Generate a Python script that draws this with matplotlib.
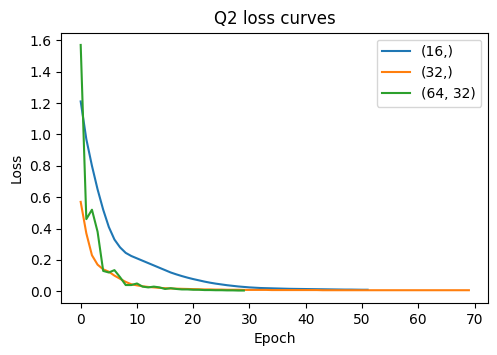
import matplotlib
matplotlib.use("Agg")
import matplotlib.pyplot as plt

loss_16 = [1.21, 0.97, 0.80, 0.65, 0.52, 0.41, 0.33, 0.28, 0.245, 0.225,
           0.21, 0.195, 0.18, 0.165, 0.15, 0.135, 0.12, 0.108, 0.097, 0.087,
           0.078, 0.07, 0.062, 0.055, 0.049, 0.044, 0.039, 0.035, 0.031, 0.028,
           0.025, 0.023, 0.021, 0.02, 0.019, 0.018, 0.017, 0.016, 0.0155, 0.015,
           0.0145, 0.014, 0.0135, 0.013, 0.0125, 0.012, 0.0115, 0.011, 0.011, 0.0105,
           0.01, 0.01]
loss_32 = [0.57, 0.37, 0.23, 0.17, 0.14, 0.125, 0.10, 0.08, 0.06, 0.045,
           0.038, 0.032, 0.028, 0.025, 0.022, 0.02, 0.018, 0.017, 0.016, 0.015,
           0.014, 0.013, 0.012, 0.012, 0.011, 0.011, 0.010, 0.010, 0.010, 0.009,
           0.009, 0.009, 0.009, 0.009, 0.008, 0.008, 0.008, 0.008, 0.008, 0.008,
           0.008, 0.008, 0.008, 0.007, 0.007, 0.007, 0.007, 0.007, 0.007, 0.007,
           0.007, 0.007, 0.007, 0.007, 0.007, 0.007, 0.007, 0.007, 0.007, 0.007,
           0.007, 0.007, 0.007, 0.007, 0.007, 0.007, 0.007, 0.007, 0.007, 0.007]
loss_64_32 = [1.57, 0.46, 0.52, 0.38, 0.13, 0.12, 0.135, 0.09, 0.04, 0.04,
              0.05, 0.03, 0.025, 0.03, 0.025, 0.015, 0.02, 0.015, 0.012, 0.012,
              0.01, 0.01, 0.008, 0.008, 0.007, 0.007, 0.006, 0.006, 0.005, 0.005]
labels = ["(16,)", "(32,)", "(64, 32)"]

fig, ax = plt.subplots(figsize=(4.97, 3.55), dpi=100)
fig.subplots_adjust(left=0.1233, right=0.9825, top=0.908, bottom=0.147)
for series, lab in zip([loss_16, loss_32, loss_64_32], labels):
    ax.plot(range(len(series)), series, label=lab)
ax.set_title("Q2 loss curves")
ax.set_xlabel("Epoch")
ax.set_ylabel("Loss")
ax.legend(loc="upper right")
fig.savefig("out.png", dpi=100)
